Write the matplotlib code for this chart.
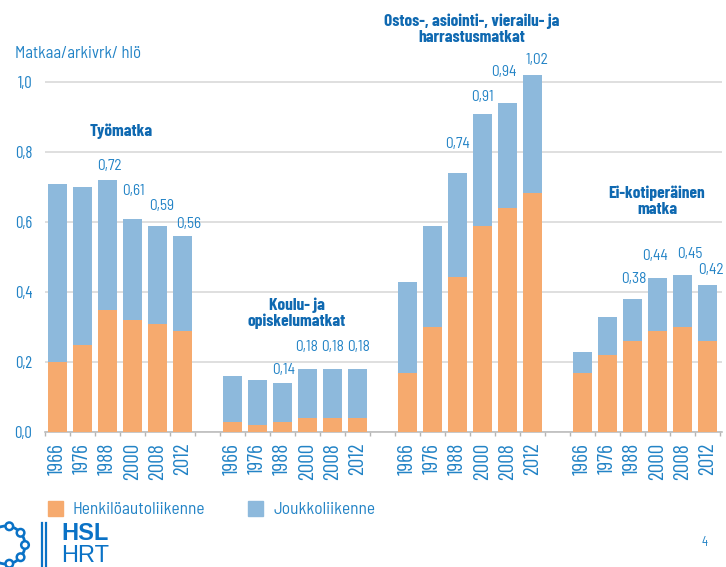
import matplotlib.pyplot as plt
import numpy as np
from matplotlib.patches import Rectangle, Circle

plt.rcParams['font.family'] = ['Barlow Semi Condensed', 'DejaVu Sans']
COND = ['Barlow Condensed', 'DejaVu Sans']

ORANGE = "#F6AA6E"
BLUE = "#8DB9DC"
TXT = "#2283c6"
TITLE = "#0f69b1"
GRID = "#dcdcdc"

W, H = 726, 567

# ── data ──────────────────────────────────────────────────────────────
years = ["1966", "1976", "1988", "2000", "2008", "2012"]
groups = ["Työmatka", "Koulu- ja\nopiskelumatkat",
          "Ostos-, asiointi-, vierailu- ja\nharrastusmatkat",
          "Ei-kotiperäinen\nmatka"]

car_work = [0.20, 0.25, 0.35, 0.32, 0.31, 0.29]
total_work = [0.71, 0.70, 0.72, 0.61, 0.59, 0.56]
car_school = [0.03, 0.02, 0.03, 0.04, 0.04, 0.04]
total_school = [0.16, 0.15, 0.14, 0.18, 0.18, 0.18]
car_leisure = [0.17, 0.30, 0.445, 0.59, 0.64, 0.685]
total_leisure = [0.43, 0.59, 0.74, 0.91, 0.94, 1.02]
car_nonhome = [0.17, 0.22, 0.26, 0.29, 0.30, 0.26]
total_nonhome = [0.23, 0.33, 0.38, 0.44, 0.45, 0.42]

yticks = [0.0, 0.2, 0.4, 0.6, 0.8, 1.0]

car = np.array([car_work, car_school, car_leisure, car_nonhome])
total = np.array([total_work, total_school, total_leisure, total_nonhome])
pt = total - car

# label placement (pixels above bar top, x nudge) for the last four bars
lab_dy = [[14, 28, 20, 12], [13, 22, 22, 22], [29, 17, 31, 15], [20, 22, 21, 15]]
lab_dx = [[2, 1, 4, 6], [1, -1, 0, 1], [0, 0, -3, 5], [2, -2, 8, 4]]


def fx(x):
    return x / W


def fy(y):
    return 1 - y / H


fig = plt.figure(figsize=(W / 100, H / 100), dpi=100)
ax = fig.add_axes([fx(44.7), fy(432.3), 677.5 / W, 385 / H])

pos = np.array([[g * 7 + j for j in range(6)] for g in range(4)])

ax.bar(pos.ravel(), car.ravel(), width=0.76, color=ORANGE, zorder=3)
ax.bar(pos.ravel(), pt.ravel(), bottom=car.ravel(), width=0.76, color=BLUE, zorder=3)

for g in range(4):
    for k, j in enumerate(range(2, 6)):
        v = total[g, j]
        ax.annotate(f"{v:.2f}".replace(".", ","), (pos[g, j], v),
                    xytext=(lab_dx[g][k], lab_dy[g][k]), textcoords="offset pixels",
                    ha="center", va="center", fontsize=11, color=TXT)

ax.set_xlim(-0.5, 26.6)
ax.set_ylim(0, 1.1)
ax.set_xticks(pos.ravel())
ax.set_xticklabels(years * 4, rotation=90, fontsize=15.5, color=TXT, family=COND)
ax.set_xticks(np.arange(-0.5, 27, 1), minor=True)
ax.tick_params(axis="x", which="major", length=0, pad=7.5)
ax.tick_params(axis="x", which="minor", length=3, color="#b5b5b5", width=1)
ax.set_yticks(yticks)
ax.set_yticklabels([f"{t:.1f}".replace(".", ",") for t in yticks], fontsize=12,
                   color=TXT, family=COND)
ax.tick_params(axis="y", length=0, pad=9)
ax.grid(axis="y", color=GRID, linewidth=1.3, zorder=0)
for s in ["top", "right", "left"]:
    ax.spines[s].set_visible(False)
ax.spines["bottom"].set_color("#bdbdbd")
ax.spines["bottom"].set_linewidth(1.2)

# ── overlay in pixel coordinates ──────────────────────────────────────
ov = fig.add_axes([0, 0, 1, 1])
ov.set_xlim(0, W)
ov.set_ylim(H, 0)
ov.axis("off")

ov.text(15, 54, "Matkaa/arkivrk/ hlö", ha="left", va="center", fontsize=12, color=TXT)

title_xy = [(121, 131), (297, 313), (472, 29), (657, 201)]
for (tx, ty), name in zip(title_xy, groups):
    ov.text(tx, ty, name, ha="center", va="center", fontsize=12.5, fontweight="bold",
            color=TITLE, linespacing=1.05, family=COND)

# legend
ov.add_patch(Rectangle((47.5, 501), 15, 15, color=ORANGE))
ov.text(72, 509, "Henkilöautoliikenne", ha="left", va="center", fontsize=12.5, color=TXT)
ov.add_patch(Rectangle((248, 501), 15, 15, color=BLUE))
ov.text(273, 509, "Joukkoliikenne", ha="left", va="center", fontsize=12.5, color=TXT)

# HSL logo
LOGO = "#0a72c6"
ov.add_patch(Circle((6, 545), 19, fill=False, edgecolor=LOGO, linewidth=2))
for ang in [-80, -40, 0, 40, 80]:
    a = np.deg2rad(ang)
    ov.add_patch(Circle((6 + 19 * np.cos(a), 545 + 19 * np.sin(a)), 3.8,
                        facecolor="white", edgecolor=LOGO, linewidth=1.8))
ov.plot([42, 42], [523, 567], color=LOGO, linewidth=1.6)
ov.plot([46, 46], [523, 567], color=LOGO, linewidth=1.6)
ov.text(61, 534, "HSL", ha="left", va="center", fontsize=17, fontweight="bold",
        color=LOGO, family="Liberation Sans")
ov.text(61, 556, "HRT", ha="left", va="center", fontsize=17, color=LOGO,
        family="Liberation Sans")

ov.text(705, 543, "4", ha="center", va="center", fontsize=9, color=TXT)

fig.savefig("out.png", dpi=100)
